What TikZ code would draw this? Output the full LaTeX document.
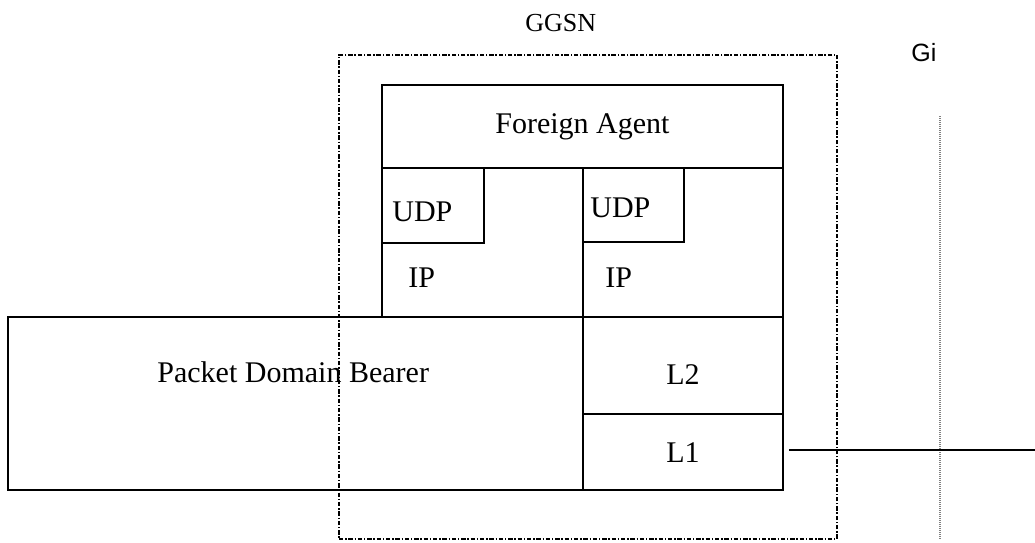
\documentclass[tikz,border=0pt]{standalone}
\usepackage{fontspec}
\setmainfont{Liberation Serif}
\newfontfamily\gisans{Liberation Sans}
\usetikzlibrary{fit}

\tikzset{
    box/.style={draw, line width=1.4pt, inner sep=0pt, fit={#1}},
    lbl/.style={anchor=base west, inner sep=0pt, font=\fontsize{15}{18}\selectfont},
    ggsnframe/.style={draw, line width=1.2pt, inner sep=0pt,
        dash pattern=on 2.2pt off 0.9pt on 0.7pt off 0.9pt, fit={#1}},
}

\begin{document}
\begin{tikzpicture}[x=0.5pt, y=-0.5pt]
    \useasboundingbox (0,0) rectangle (1035,542);

    % GGSN frame and Gi reference point
    \node[ggsnframe={(339,55) (837,539)}] (ggsn) {};
    \node[anchor=base west, inner sep=0pt, font=\fontsize{13}{15}\selectfont] (ggsntxt) at (525,31) {GGSN};
    \coordinate (gitop) at (940,116);
    \coordinate (gibot) at (940,539);
    \draw[gray, line width=0.6pt, dash pattern=on 0.5pt off 0.5pt] (gitop) -- (gibot);
    \node[anchor=base west, inner sep=0pt, font=\gisans\fontsize{12.5}{15}\selectfont] (gitxt) at (911,61) {Gi};

    % protocol stack
    \node[box={(382,85) (783,168)}] (fa) {};
    \node[box={(382,168) (583,317)}] (ipL) {};
    \node[box={(583,168) (783,317)}] (ipR) {};
    \node[box={(382,168) (484,243)}] (udpL) {};
    \node[box={(583,168) (684,242)}] (udpR) {};
    \node[box={(8,317) (583,490)}] (pdb) {};
    \node[box={(583,317) (783,414)}] (l2) {};
    \node[box={(583,414) (783,490)}] (l1) {};

    \node[lbl] (fatxt) at (495,133) {Foreign Agent};
    \node[lbl] (udpLtxt) at (392,221) {UDP};
    \node[lbl] (udpRtxt) at (590,217) {UDP};
    \node[lbl] (ipLtxt) at (408,287) {IP};
    \node[lbl] (ipRtxt) at (605,287) {IP};
    \node[lbl] (pdbtxt) at (157,382) {Packet Domain Bearer};
    \node[lbl] (l2txt) at (666,384) {L2};
    \node[lbl] (l1txt) at (666,462) {L1};

    % L1 link towards Gi
    \coordinate (l1out) at (789,450);
    \coordinate (giend) at (1035,450);
    \draw[line width=1.1pt] (l1out) -- (giend);
\end{tikzpicture}
\end{document}
